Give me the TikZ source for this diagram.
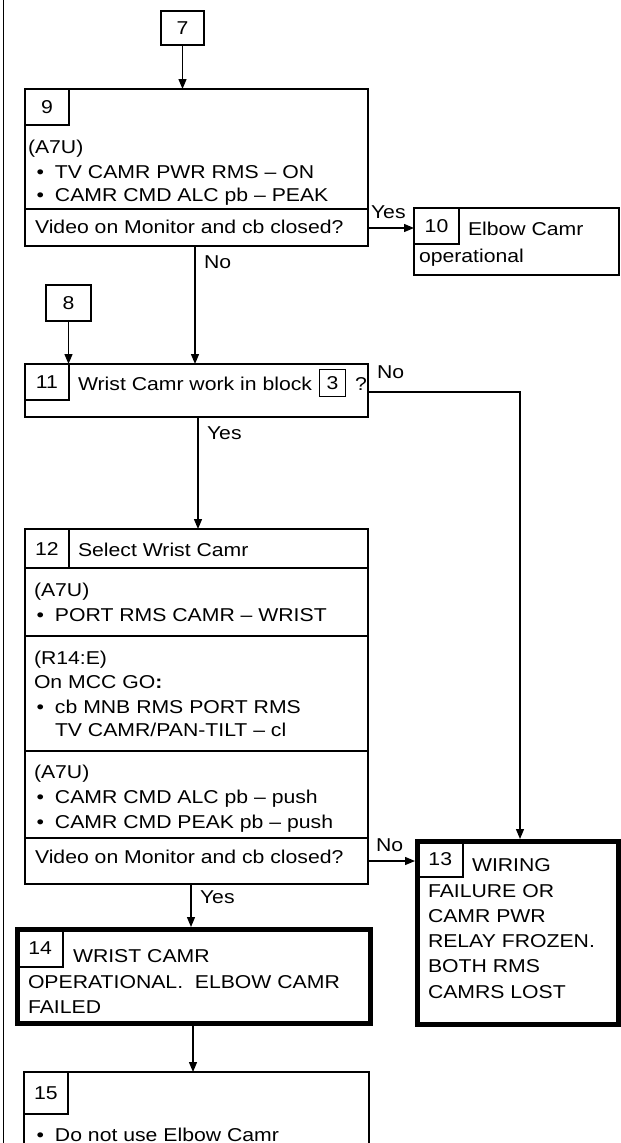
\documentclass[tikz,border=0pt]{standalone}
\usepackage{fontspec}
\setmainfont{Liberation Sans}[FakeStretch=1.14]
\usetikzlibrary{arrows.meta}
\newcommand\bul{\llap{\textbullet\hspace{11pt}}}
\tikzset{
  box/.style={draw, rectangle, line width=1.8pt, inner sep=0pt, outer sep=0pt, anchor=north west},
  heavybox/.style={box, line width=5pt},
  cellbox/.style={draw, rectangle, line width=1.3pt, inner sep=0pt, outer sep=0pt, anchor=north west},
  rule/.style={line width=1.3pt},
  txt/.style={inner sep=0pt, outer sep=0pt, anchor=base west, font=\fontsize{18.6}{22}\selectfont},
  num/.style={inner sep=0pt, outer sep=0pt, anchor=center, font=\fontsize{18.6}{22}\selectfont},
  arr/.style={line width=1.3pt, -{Triangle[length=10pt,width=8pt]}},
}
\begin{document}
\begin{tikzpicture}[x=1pt,y=-1pt]
\clip (0,0) rectangle (621,1143);
\fill[white] (0,0) rectangle (621,1143);
% left border
\draw[line width=1.5pt] (3.5,-5) -- (3.5,1150);

% coordinates for connector levels
\coordinate (y9q) at (0,228);
\coordinate (x9n) at (195,0);
\coordinate (y11n) at (0,392);
\coordinate (x13in) at (520,0);
\coordinate (x11y) at (198,0);
\coordinate (y12n) at (0,861);
\coordinate (x12y) at (191,0);
\coordinate (x14d) at (193,0);

% box 7
\node[box, line width=1.5pt, minimum width=43pt, minimum height=34pt] (b7) at (161,11) {};
\node[num] (n7) at (b7.center) {7};

% box 9
\node[box, minimum width=343pt, minimum height=157pt] (b9) at (25,89) {};
\node[cellbox, minimum width=44pt, minimum height=36pt] (c9) at (25,89) {};
\node[num] (n9) at (c9.center) {9};
\draw[rule] (25,209) -- (368,209);
\node[txt] (t9a) at (28,153) {(A7U)};
\node[txt] (t9b) at (55,178) {\bul TV CAMR PWR RMS – ON};
\node[txt] (t9c) at (55,201) {\bul CAMR CMD ALC pb – PEAK};
\node[txt] (t9d) at (35,233) {Video on Monitor and cb closed?};

% box 10
\node[box, minimum width=205pt, minimum height=67pt] (b10) at (414,208) {};
\node[cellbox, minimum width=45pt, minimum height=36pt] (c10) at (414,208) {};
\node[num] (n10) at (c10.center) {10};
\node[txt] (t10a) at (468,235) {Elbow Camr};
\node[txt] (t10b) at (419,262) {operational};

% box 8
\node[box, line width=1.5pt, minimum width=45pt, minimum height=36pt] (b8) at (46,285) {};
\node[num] (n8) at (b8.center) {8};

% box 11
\node[box, minimum width=343pt, minimum height=53pt] (b11) at (25,364) {};
\node[cellbox, minimum width=44pt, minimum height=36pt] (c11) at (25,364) {};
\node[num] (n11) at (c11.center) {11};
\node[txt] (t11a) at (78,390) {Wrist Camr work in block};
\node[draw, rectangle, line width=1.6pt, inner sep=0pt, outer sep=0pt, minimum width=26pt, minimum height=27pt, font=\fontsize{18.6}{22}\selectfont] (b3) at (332.5,383) {3};
\node[txt] (t11b) at (355,390) {?};

% box 12
\node[box, minimum width=343pt, minimum height=355pt] (b12) at (25,529) {};
\node[cellbox, minimum width=44pt, minimum height=39pt] (c12) at (25,529) {};
\node[num] (n12) at (c12.center) {12};
\draw[rule] (25,568) -- (368,568);
\draw[rule] (25,636) -- (368,636);
\draw[rule] (25,751) -- (368,751);
\draw[rule] (25,838) -- (368,838);
\node[txt] (t12a) at (78,556) {Select Wrist Camr};
\node[txt] (t12b) at (34,596) {(A7U)};
\node[txt] (t12c) at (55,621) {\bul PORT RMS CAMR – WRIST};
\node[txt] (t12d) at (34,664) {(R14:E)};
\node[txt] (t12e) at (34,688) {On MCC GO\textbf{:}};
\node[txt] (t12f) at (55,713) {\bul cb MNB RMS PORT RMS};
\node[txt] (t12g) at (55,736) {TV CAMR/PAN-TILT – cl};
\node[txt] (t12h) at (34,778) {(A7U)};
\node[txt] (t12i) at (55,803) {\bul CAMR CMD ALC pb – push};
\node[txt] (t12j) at (55,828) {\bul CAMR CMD PEAK pb – push};
\node[txt] (t12k) at (35,863) {Video on Monitor and cb closed?};

% box 13
\node[heavybox, minimum width=201pt, minimum height=183pt] (b13) at (417.5,841.5) {};
\node[cellbox, minimum width=45.5pt, minimum height=35.5pt] (c13) at (417.5,841.5) {};
\node[num] (n13) at (c13.center) {13};
\node[txt] (t13a) at (472,871) {WIRING};
\node[txt] (t13b) at (428,897) {FAILURE OR};
\node[txt] (t13c) at (428,922) {CAMR PWR};
\node[txt] (t13d) at (428,947) {RELAY FROZEN.};
\node[txt] (t13e) at (428,972) {BOTH RMS};
\node[txt] (t13f) at (428,998) {CAMRS LOST};

% box 14
\node[heavybox, minimum width=353pt, minimum height=94pt] (b14) at (17.5,929.5) {};
\node[cellbox, minimum width=45.5pt, minimum height=37.5pt] (c14) at (17.5,929.5) {};
\node[num] (n14) at (c14.center) {14};
\node[txt] (t14a) at (73,962) {WRIST CAMR};
\node[txt] (t14b) at (28,988) {OPERATIONAL.\ \ ELBOW CAMR};
\node[txt] (t14c) at (28,1013) {FAILED};

% box 15
\node[box, minimum width=345pt, minimum height=100pt] (b15) at (24,1072) {};
\node[cellbox, minimum width=44pt, minimum height=42pt] (c15) at (24,1072) {};
\node[num] (n15) at (c15.center) {15};
\node[txt] (t15a) at (55,1141) {\bul Do not use Elbow Camr};

% connectors
\draw[arr] (b7.south) -- (b7.south |- b9.north);
\draw[arr] (b9.east |- y9q) -- (b10.west |- y9q);
\draw[arr] (b9.south -| x9n) -- (b11.north -| x9n);
\draw[arr] (b8.south) -- (b8.south |- b11.north);
\draw[arr] (b11.east |- y11n) -| ([yshift=2.5pt]b13.north -| x13in);
\draw[arr] (b11.south -| x11y) -- (b12.north -| x11y);
\draw[arr] (b12.east |- y12n) -- ([xshift=-2.5pt]b13.west |- y12n);
\draw[arr] (b12.south -| x12y) -- ([yshift=2.5pt]b14.north -| x12y);
\draw[arr] (b14.south -| x14d) -- (b15.north -| x14d);

% connector labels
\node[txt] (l1) at (371,218) {Yes};
\node[txt] (l2) at (204,268) {No};
\node[txt] (l3) at (377,378) {No};
\node[txt] (l4) at (207,439) {Yes};
\node[txt] (l5) at (376,851) {No};
\node[txt] (l6) at (200,903) {Yes};
\end{tikzpicture}
\end{document}
